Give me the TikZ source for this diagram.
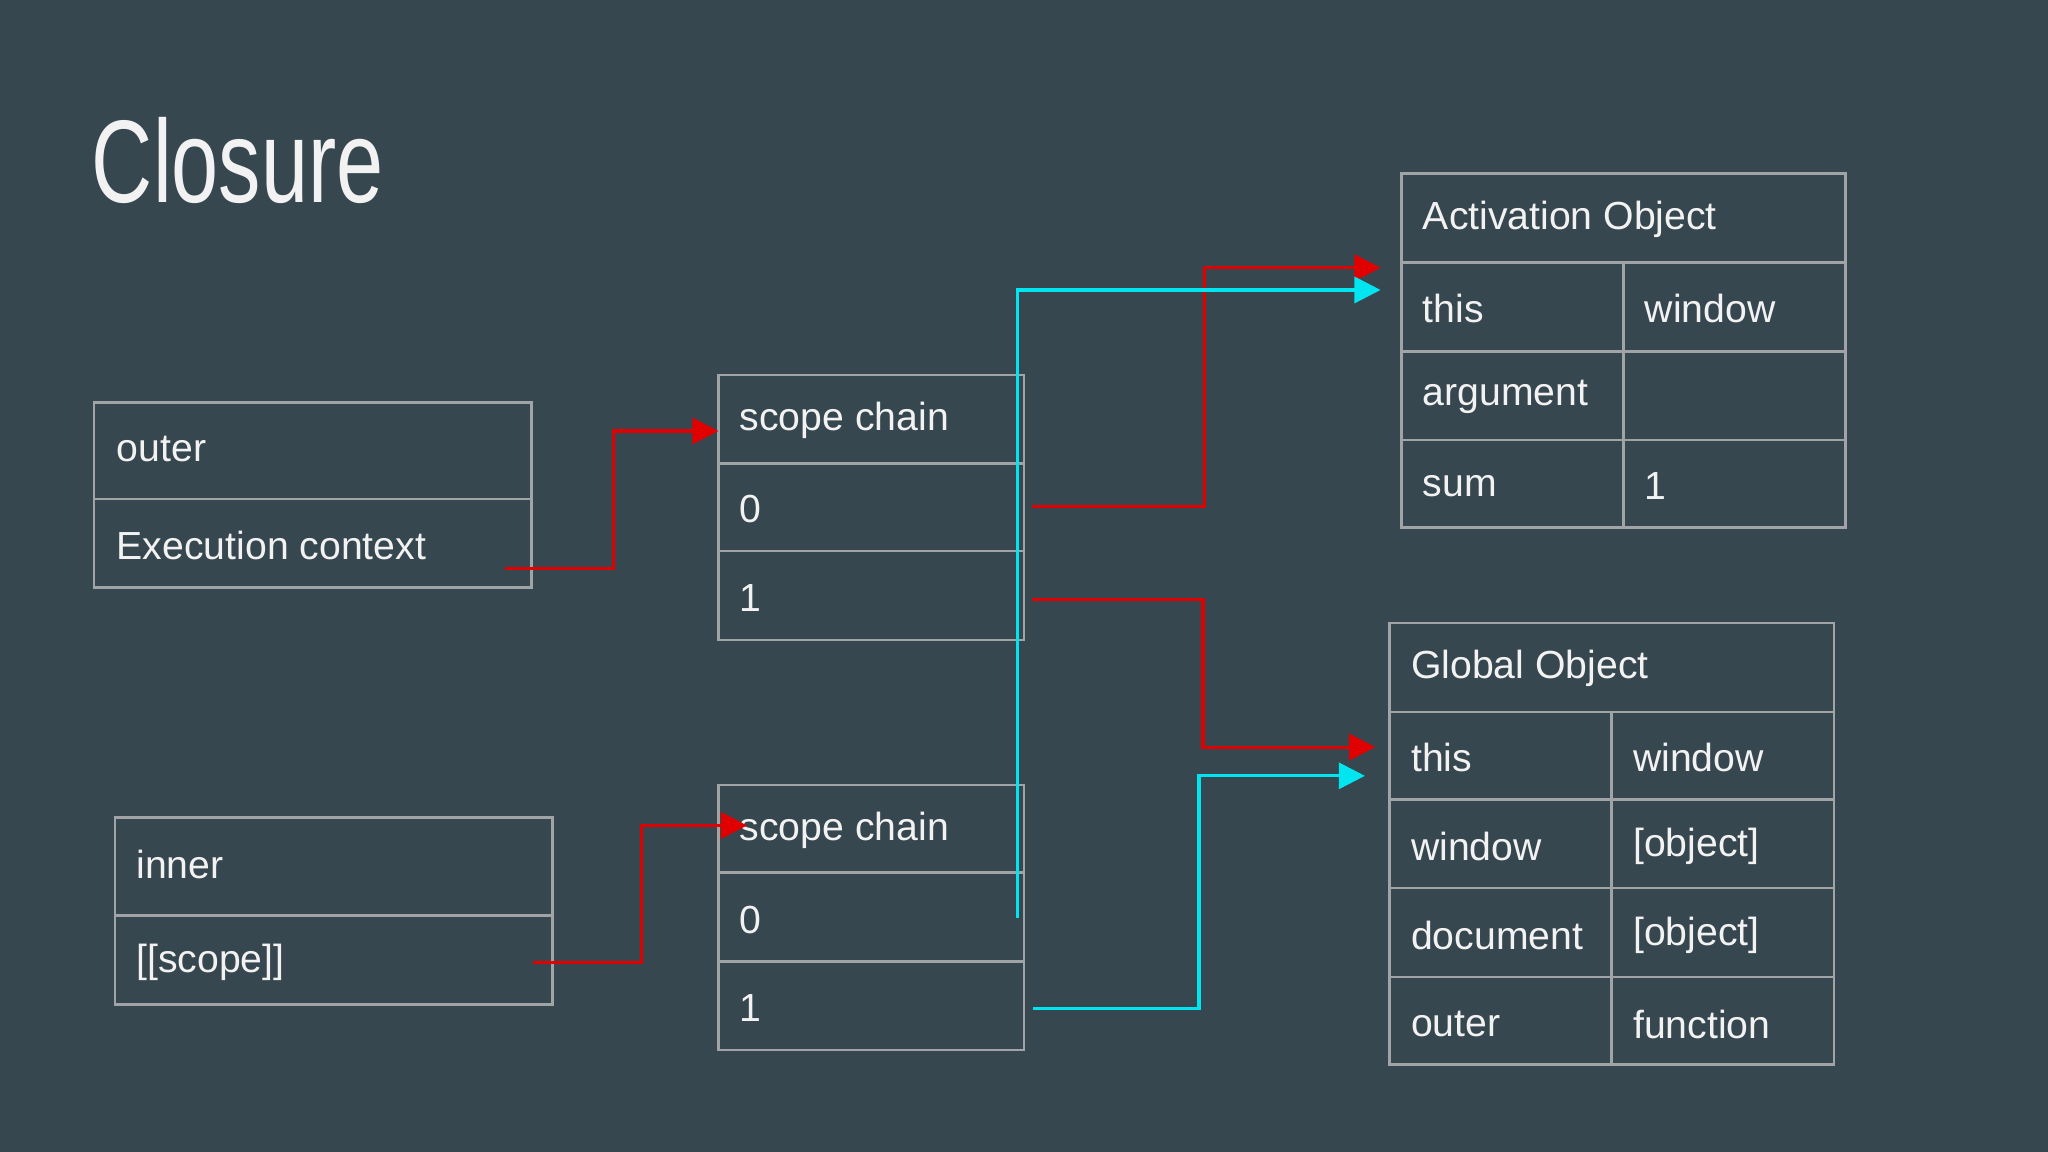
\documentclass[tikz,border=0pt]{standalone}
\usepackage{fontspec}
\setmainfont{Liberation Sans}
\usetikzlibrary{arrows.meta}
\definecolor{bg}{HTML}{37474F}
\definecolor{ln}{HTML}{A0A4A6}
\definecolor{tx}{HTML}{F2F2F2}
\definecolor{rd}{HTML}{E00000}
\definecolor{cy}{HTML}{00E5F0}
\tikzset{
  cell/.style={draw=ln,line width=1pt},
  lab/.style={anchor=west,text=tx,font=\fontsize{15}{18}\selectfont,inner sep=0pt},
  rarr/.style={draw=rd,line width=1.2pt,-{Triangle[length=10pt,width=10pt]}},
  carr/.style={draw=cy,line width=1.2pt,-{Triangle[length=10pt,width=10pt]}},
}
\begin{document}
\begin{tikzpicture}[x=0.5pt,y=-0.5pt]
\fill[bg] (0,0) rectangle (1568,882);
\useasboundingbox (0,0) rectangle (1568,882);
\node[anchor=base west,text=tx,inner sep=0pt] (title) at (70,155) {\scalebox{0.72}[1]{\fontsize{45}{50}\selectfont Closure}};
% outer
\draw[cell] (72,308) rectangle (407,450); \draw[cell] (72,382) -- (407,382);
\node[lab] (o1) at (89,344) {outer};
\node[lab] (o2) at (89,418) {Execution context};
% inner
\draw[cell] (88,626) rectangle (423,769); \draw[cell] (88,701) -- (423,701);
\node[lab] (i1) at (104,662) {inner};
\node[lab] (i2) at (104,737) {[[scope]]};
% scope chain 1
\draw[cell] (550,287) rectangle (784,490); \draw[cell] (550,355) -- (784,355); \draw[cell] (550,422) -- (784,422);
\node[lab] (s1) at (566,322) {scope chain};
\node[lab] (s10) at (566,390) {0};
\node[lab] (s11) at (566,458) {1};
% scope chain 2
\draw[cell] (550,601) rectangle (784,804); \draw[cell] (550,668) -- (784,668); \draw[cell] (550,736) -- (784,736);
\node[lab] (s2) at (566,636) {scope chain};
\node[lab] (s20) at (566,704) {0};
\node[lab] (s21) at (566,772) {1};
% activation
\draw[cell] (1073,133) rectangle (1413,404);
\foreach \y in {201,269,337} \draw[cell] (1073,\y) -- (1413,\y);
\draw[cell] (1243,201) -- (1243,404);
\node[lab] (a0) at (1089,168) {Activation Object};
\node[lab] (a1) at (1089,236) {this};
\node[lab] (a1v) at (1259,236) {window};
\node[lab] (a2) at (1089,304) {argument};
\node[lab] (a3) at (1089,372) {sum};
\node[lab] (a3v) at (1259,372) {1};
% global
\draw[cell] (1064,477) rectangle (1404,815);
\foreach \y in {545,612,680,748} \draw[cell] (1064,\y) -- (1404,\y);
\draw[cell] (1234,545) -- (1234,815);
\node[lab] (g0) at (1080,512) {Global Object};
\node[lab] (g1) at (1080,580) {this};
\node[lab] (g1v) at (1250,580) {window};
\node[lab] (g2) at (1080,648) {window};
\node[lab] (g2v) at (1250,648) {[object]};
\node[lab] (g3) at (1080,716) {document};
\node[lab] (g3v) at (1250,716) {[object]};
\node[lab] (g4) at (1080,784) {outer};
\node[lab] (g4v) at (1250,784) {function};
% connector points
\coordinate (e1) at (387,435); \coordinate (t1) at (550,330);
\coordinate (e2) at (408,737); \coordinate (t2) at (572,632);
\coordinate (e3) at (790,388); \coordinate (t3) at (1057,205);
\coordinate (e4) at (779,703); \coordinate (t4) at (1057,222);
\coordinate (e5) at (790,459); \coordinate (t5) at (1053,572);
\coordinate (e6) at (791,772); \coordinate (t6) at (1045,594);
\draw[rarr] (e1) -- (470,435) -- (470,330) -- (t1);
\draw[rarr] (e2) -- (491,737) -- (491,632) -- (t2);
\draw[rarr] (e3) -- (922,388) -- (922,205) -- (t3);
\draw[carr] (e4) -- (779,222) -- (t4);
\draw[rarr] (e5) -- (921,459) -- (921,572) -- (t5);
\draw[carr] (e6) -- (918,772) -- (918,594) -- (t6);
\end{tikzpicture}
\end{document}
